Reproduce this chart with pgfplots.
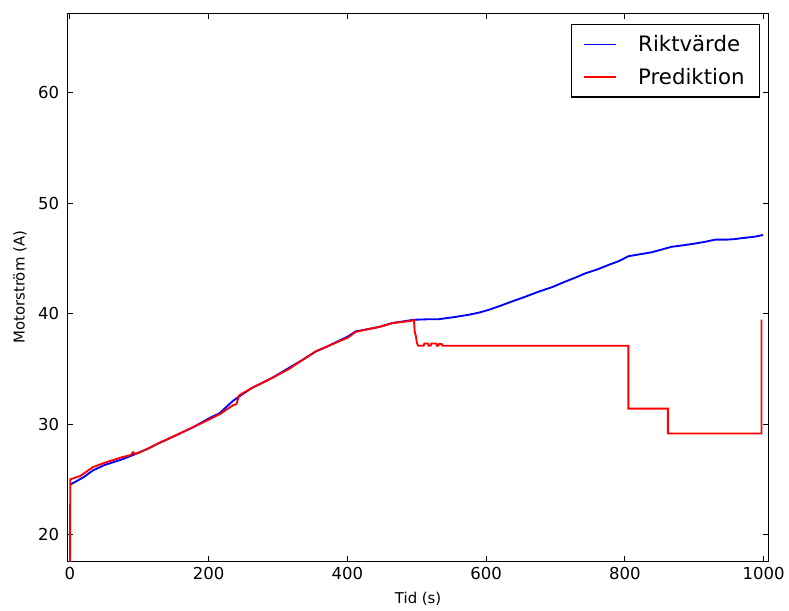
\documentclass[border=0pt]{standalone}
\usepackage{fontspec}
\setmainfont{DejaVu Sans}
\usepackage{pgfplots}
\pgfplotsset{compat=1.18}

\begin{document}
\begin{tikzpicture}
\begin{axis}[
  scale only axis, width=527pt, height=412pt,
  xmin=-3, xmax=1007, ymin=17.6, ymax=67.2,
  xtick={0,200,...,1000}, ytick={20,30,...,60},
  tick align=inside, tick pos=both, major tick length=4pt,
  /pgf/number format/assume math mode=true,
  /pgf/number format/set thousands separator={},
  ticklabel style={font=\fontsize{12.4}{14}\selectfont},
  xticklabel style={yshift=-1pt},
  yticklabel style={xshift=-3pt},
  axis line style={line width=0.8pt},
  every tick/.style={black, line width=0.6pt},
  xlabel={Tid (s)}, ylabel={Motorström (A)},
  label style={font=\fontsize{11.2}{13}\selectfont},
  xlabel style={at={([yshift=-28.5pt]axis description cs:0.5,0)}, anchor=center},
  ylabel style={at={([xshift=-36pt]axis description cs:0,0.5)}, anchor=center},
  legend cell align=left,
  legend style={at={(rel axis cs:0.9875,0.98)}, anchor=north east,
    draw=black, line width=0.8pt, font=\fontsize{16}{19}\selectfont,
    inner xsep=9pt, inner ysep=6pt, row sep=7pt},
  /tikz/every odd column/.style={column sep=14pt},
  legend image code/.code={\draw[#1, line width=1.2pt] (0pt,0pt) -- (24pt,0pt);},
]
\addplot[blue, line width=1.4pt] coordinates {
(0,24.5) (20,25.2) (33,25.8) (50,26.3) (75,26.8) (91,27.2) (110,27.7)
(129,28.3) (150,28.9) (177,29.7) (200,30.5) (216,31.0) (235,32.1)
(244,32.5) (263,33.3) (273,33.6) (292,34.2) (316,35.1) (335,35.8)
(355,36.6) (370,37.0) (388,37.55) (400,37.9) (412,38.4) (430,38.6)
(446,38.8) (465,39.15) (480,39.3) (496,39.45) (520,39.5) (532,39.5)
(555,39.7) (575,39.9) (590,40.1) (604,40.35) (620,40.7) (637,41.1)
(655,41.5) (676,42.0) (695,42.4) (714,42.9) (730,43.3) (743,43.65)
(760,44.0) (776,44.4) (791,44.75) (805,45.2) (819,45.35) (838,45.55)
(850,45.75) (867,46.05) (885,46.2) (901,46.35) (915,46.5) (930,46.7)
(945,46.7) (958,46.75) (970,46.85) (982,46.93) (990,47.0) (999,47.13)
};
\addlegendentry{Riktvärde}
\addplot[red, line width=1.4pt] coordinates {
(0,10) (0.5,25.0) (15,25.3) (33,26.1) (50,26.5) (75,27.0) (88,27.2)
(91,27.45) (95,27.3) (110,27.7) (129,28.3) (150,28.9) (177,29.7)
(200,30.4) (216,30.9) (235,31.7) (240,31.8) (244,32.6) (263,33.3)
(273,33.6) (292,34.2) (316,35.0) (335,35.8) (355,36.6) (370,37.0)
(388,37.5) (400,37.8) (412,38.35) (430,38.6) (446,38.8) (465,39.15)
(480,39.25) (496,39.4) (497,38.4) (499,37.9) (500,37.4) (502,37.1)
(510,37.1) (511,37.3) (516,37.3) (517,37.1) (520,37.1) (521,37.3)
(528,37.3) (529,37.1) (531,37.1) (532,37.25) (536,37.25) (537,37.1)
(805,37.1) (805,31.4) (862,31.4)
(862,29.15) (997,29.15) (997,39.45)
};
\addlegendentry{Prediktion}
\end{axis}
\path ([shift={(-51pt,-36pt)}]current axis.south west)
  rectangle ([shift={(13.5pt,10pt)}]current axis.north east);
\end{tikzpicture}
\end{document}
